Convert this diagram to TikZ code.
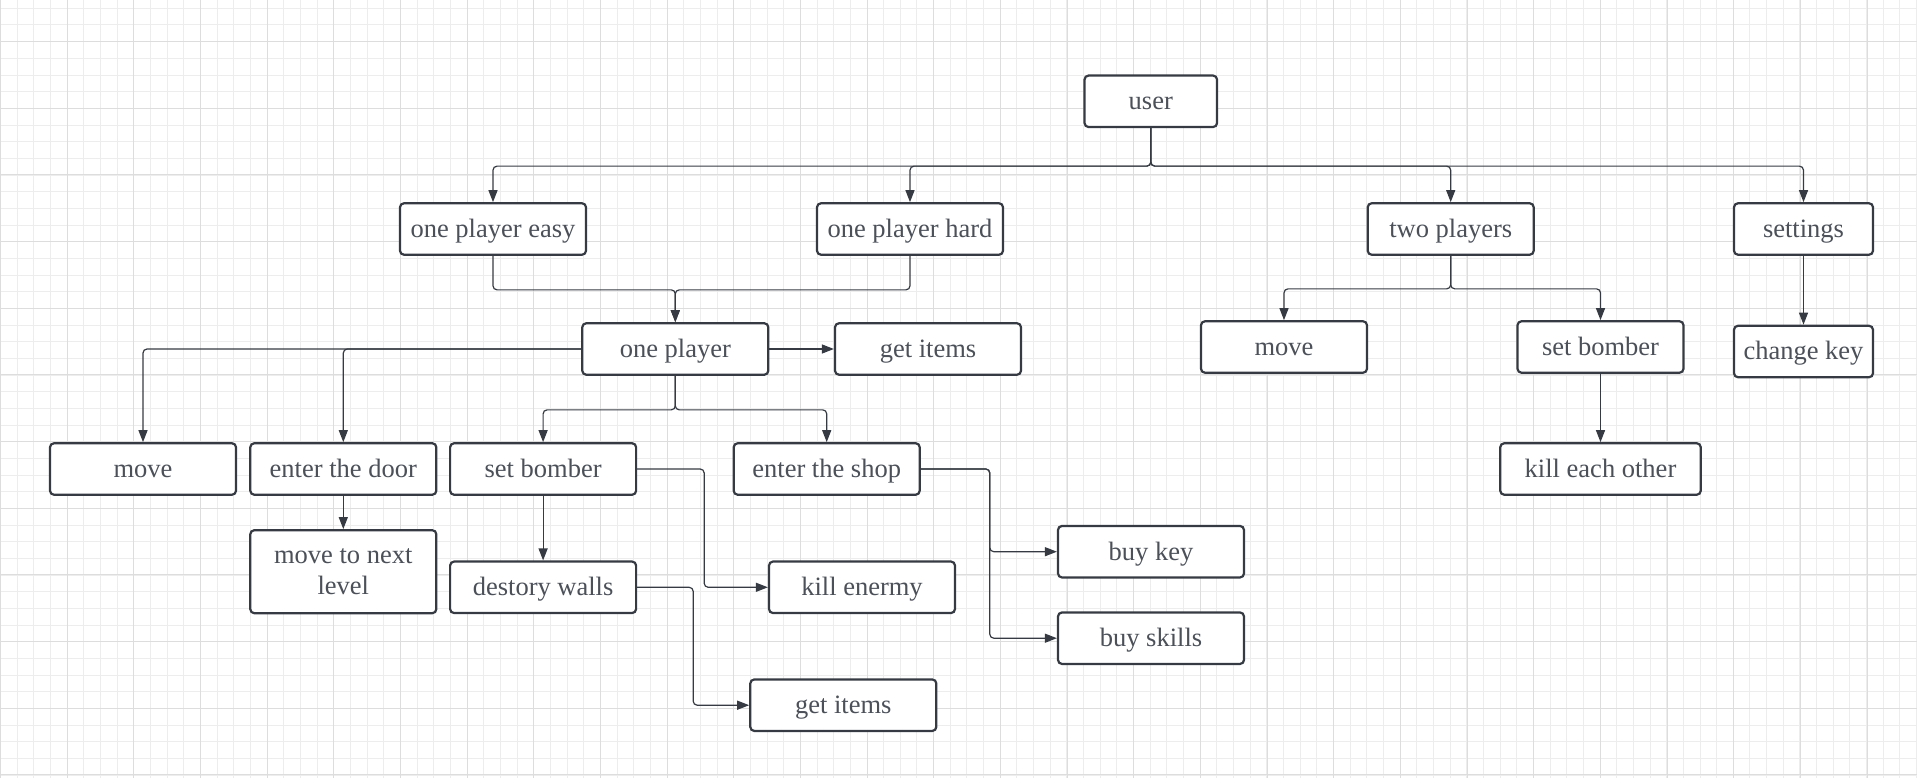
\documentclass[tikz,border=0pt]{standalone}
\usepackage{fontspec}
\setmainfont{Liberation Serif}
\usetikzlibrary{arrows.meta}
\definecolor{ink}{HTML}{363B43}
\definecolor{txt}{HTML}{4B5059}
\definecolor{minorgrid}{HTML}{EDEDED}
\definecolor{majorgrid}{HTML}{DDDDDD}
\begin{document}
\begin{tikzpicture}[x=1pt,y=-1pt,
  box/.style={draw=ink,line width=2.2pt,rounded corners=4pt,fill=white,text=txt,
    minimum width=186pt,minimum height=51.5pt,inner sep=0pt,align=center,
    text height=20pt,text depth=3.4pt,font=\fontsize{26.5}{31}\selectfont},
  flow/.style={draw=ink,line width=1.2pt,rounded corners=4pt,
    -{Triangle[length=12pt,width=9pt]}}]
\useasboundingbox (0,0) rectangle (1917,778);
\fill[white] (0,0) rectangle (1917,778);
% grid
\foreach \x in {0.67,17.33,...,1917} \draw[minorgrid,line width=1pt] (\x,0) -- (\x,778);
\foreach \y in {8.33,25,...,778} \draw[minorgrid,line width=1pt] (0,\y) -- (1917,\y);
\foreach \x in {0.67,67.33,...,1917} \draw[majorgrid,line width=1pt] (\x,0) -- (\x,778);
\foreach \y in {41.67,108.33,...,778} \draw[majorgrid,line width=1pt] (0,\y) -- (1917,\y);
% boxes
\node[box,minimum width=132.5pt] (user) at (1150.8,101.3) {user};
\node[box] (easy) at (493,229) {one player easy};
\node[box] (hard) at (910,229) {one player hard};
\node[box,minimum width=166pt] (twop) at (1450.7,229) {two players};
\node[box,minimum width=139pt] (settings) at (1803.5,229) {settings};
\node[box] (onep) at (675.3,349) {one player};
\node[box] (items) at (928,349) {get items};
\node[box] (move) at (143,469) {move};
\node[box] (door) at (343.3,469) {enter the door};
\node[box] (bomber) at (543.1,469) {set bomber};
\node[box] (shop) at (826.7,469) {enter the shop};
\node[box,minimum height=83pt,text height=,text depth=] (level) at (343.3,571.7) {move to next\\level};
\node[box] (walls) at (543.1,587.3) {destory walls};
\node[box] (kill) at (862,587.3) {kill enermy};
\node[box] (buykey) at (1151,551.7) {buy key};
\node[box] (buyskills) at (1151,638.2) {buy skills};
\node[box] (drop) at (843.3,705.2) {get items};
\node[box,minimum width=166pt] (twomove) at (1284,347) {move};
\node[box,minimum width=166pt] (twobomber) at (1600.5,347) {set bomber};
\node[box,minimum width=139pt] (key) at (1803.5,351.5) {change key};
\node[box,minimum width=200.5pt] (killeach) at (1600.5,469) {kill each other};
% connectors
\draw[flow] (user.south) -- ++(0,38) -| (easy.north);
\draw[flow] (user.south) -- ++(0,38) -| (hard.north);
\draw[flow] (user.south) -- ++(0,38) -| (twop.north);
\draw[flow] (user.south) -- ++(0,38) -| (settings.north);
\draw[flow] (easy.south) -- ++(0,34) -| (onep.north);
\draw[flow] (hard.south) -- ++(0,34) -| (onep.north);
\draw[flow] (onep.east) -- (items.west);
\draw[flow] (onep.west) -| (move.north);
\draw[flow] (onep.west) -| (door.north);
\draw[flow] (onep.south) -- ++(0,34) -| (bomber.north);
\draw[flow] (onep.south) -- ++(0,34) -| (shop.north);
\draw[flow] (door.south) -- (level.north);
\draw[flow] (bomber.south) -- (walls.north);
\draw[flow] (bomber.east) -- ++(67,0) |- (kill.west);
\draw[flow] (walls.east) -- ++(56,0) |- (drop.west);
\draw[flow] (shop.east) -- ++(69,0) |- (buykey.west);
\draw[flow] (shop.east) -- ++(69,0) |- (buyskills.west);
\draw[flow] (twop.south) -- ++(0,33) -| (twomove.north);
\draw[flow] (twop.south) -- ++(0,33) -| (twobomber.north);
\draw[flow] (settings.south) -- (key.north);
\draw[flow] (twobomber.south) -- (killeach.north);
\end{tikzpicture}
\end{document}
